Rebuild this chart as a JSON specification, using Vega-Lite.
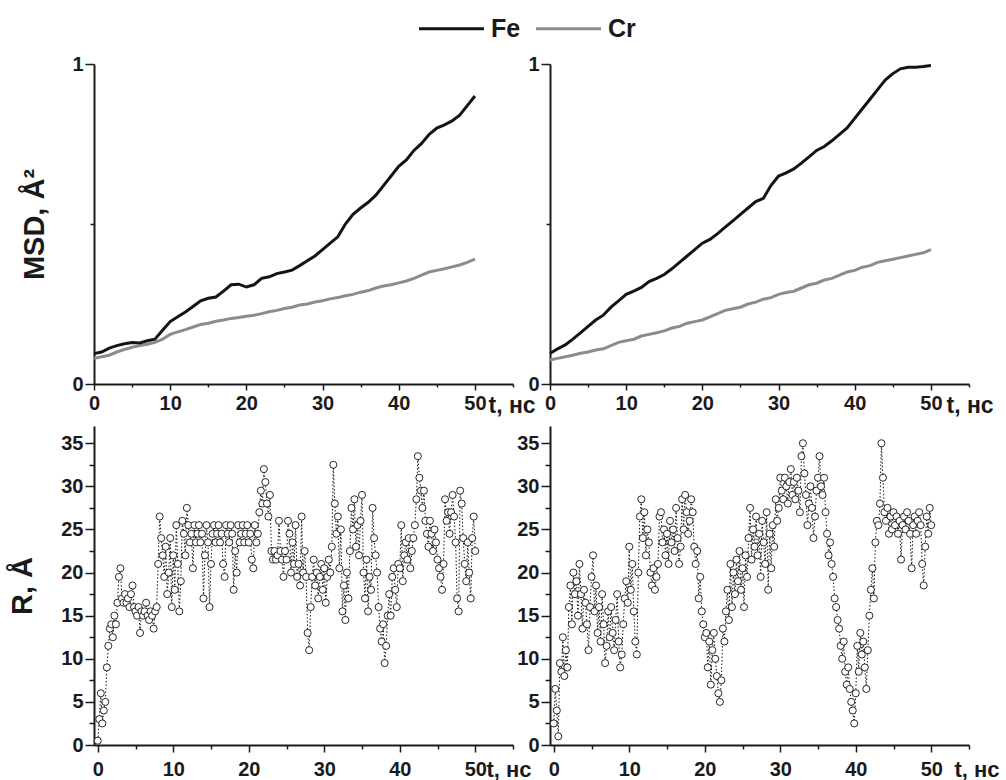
{
"$schema": "https://vega.github.io/schema/vega-lite/v6.json",
"background": "white",
"padding": {"left": 8, "top": 16, "right": 0, "bottom": 0},
"config": {
  "font": "Liberation Sans",
  "view": {"stroke": null},
  "axis": {"labelFont": "Liberation Sans", "labelFontWeight": "bold", "labelFontSize": 20, "labelColor": "#1a1a1a", "domainColor": "#1a1a1a", "domainWidth": 2, "tickColor": "#1a1a1a", "tickWidth": 1.5, "grid": false, "titleFont": "Liberation Sans", "titleFontWeight": "bold", "titleColor": "#1a1a1a", "labelOverlap": false, "labelFlush": false, "labelBound": false}
},
"datasets": {
"msdA": [
{"t":0,"Fe":0.095,"Cr":0.08},{"t":1,"Fe":0.1,"Cr":0.085},{"t":2,"Fe":0.112,"Cr":0.09},{"t":3,"Fe":0.12,"Cr":0.1},{"t":4,"Fe":0.126,"Cr":0.108},{"t":5,"Fe":0.13,"Cr":0.115},{"t":6,"Fe":0.128,"Cr":0.12},{"t":7,"Fe":0.135,"Cr":0.124},{"t":8,"Fe":0.14,"Cr":0.13},{"t":9,"Fe":0.168,"Cr":0.14},{"t":10,"Fe":0.195,"Cr":0.155},{"t":11,"Fe":0.21,"Cr":0.163},{"t":12,"Fe":0.225,"Cr":0.17},{"t":13,"Fe":0.242,"Cr":0.178},{"t":14,"Fe":0.26,"Cr":0.186},{"t":15,"Fe":0.268,"Cr":0.19},{"t":16,"Fe":0.272,"Cr":0.196},{"t":17,"Fe":0.29,"Cr":0.2},{"t":18,"Fe":0.31,"Cr":0.205},{"t":19,"Fe":0.312,"Cr":0.208},{"t":20,"Fe":0.303,"Cr":0.212},{"t":21,"Fe":0.31,"Cr":0.215},{"t":22,"Fe":0.33,"Cr":0.22},{"t":23,"Fe":0.335,"Cr":0.226},{"t":24,"Fe":0.345,"Cr":0.23},{"t":25,"Fe":0.35,"Cr":0.236},{"t":26,"Fe":0.356,"Cr":0.24},{"t":27,"Fe":0.37,"Cr":0.247},{"t":28,"Fe":0.385,"Cr":0.25},{"t":29,"Fe":0.4,"Cr":0.256},{"t":30,"Fe":0.42,"Cr":0.26},{"t":31,"Fe":0.44,"Cr":0.266},{"t":32,"Fe":0.46,"Cr":0.27},{"t":33,"Fe":0.5,"Cr":0.276},{"t":34,"Fe":0.53,"Cr":0.28},{"t":35,"Fe":0.55,"Cr":0.287},{"t":36,"Fe":0.568,"Cr":0.292},{"t":37,"Fe":0.59,"Cr":0.3},{"t":38,"Fe":0.62,"Cr":0.306},{"t":39,"Fe":0.65,"Cr":0.31},{"t":40,"Fe":0.68,"Cr":0.316},{"t":41,"Fe":0.7,"Cr":0.322},{"t":42,"Fe":0.73,"Cr":0.33},{"t":43,"Fe":0.752,"Cr":0.34},{"t":44,"Fe":0.78,"Cr":0.35},{"t":45,"Fe":0.8,"Cr":0.355},{"t":46,"Fe":0.81,"Cr":0.36},{"t":47,"Fe":0.822,"Cr":0.366},{"t":48,"Fe":0.84,"Cr":0.372},{"t":49,"Fe":0.87,"Cr":0.38},{"t":50,"Fe":0.9,"Cr":0.39}
],
"msdB": [
{"t":0,"Fe":0.095,"Cr":0.075},{"t":1,"Fe":0.11,"Cr":0.08},{"t":2,"Fe":0.122,"Cr":0.085},{"t":3,"Fe":0.14,"Cr":0.09},{"t":4,"Fe":0.16,"Cr":0.096},{"t":5,"Fe":0.18,"Cr":0.1},{"t":6,"Fe":0.2,"Cr":0.106},{"t":7,"Fe":0.215,"Cr":0.11},{"t":8,"Fe":0.24,"Cr":0.12},{"t":9,"Fe":0.26,"Cr":0.13},{"t":10,"Fe":0.28,"Cr":0.135},{"t":11,"Fe":0.29,"Cr":0.14},{"t":12,"Fe":0.302,"Cr":0.15},{"t":13,"Fe":0.32,"Cr":0.155},{"t":14,"Fe":0.33,"Cr":0.16},{"t":15,"Fe":0.342,"Cr":0.166},{"t":16,"Fe":0.36,"Cr":0.175},{"t":17,"Fe":0.38,"Cr":0.18},{"t":18,"Fe":0.4,"Cr":0.19},{"t":19,"Fe":0.42,"Cr":0.195},{"t":20,"Fe":0.44,"Cr":0.2},{"t":21,"Fe":0.452,"Cr":0.21},{"t":22,"Fe":0.47,"Cr":0.22},{"t":23,"Fe":0.49,"Cr":0.23},{"t":24,"Fe":0.51,"Cr":0.235},{"t":25,"Fe":0.53,"Cr":0.24},{"t":26,"Fe":0.55,"Cr":0.25},{"t":27,"Fe":0.57,"Cr":0.256},{"t":28,"Fe":0.58,"Cr":0.265},{"t":29,"Fe":0.62,"Cr":0.27},{"t":30,"Fe":0.65,"Cr":0.28},{"t":31,"Fe":0.66,"Cr":0.286},{"t":32,"Fe":0.672,"Cr":0.29},{"t":33,"Fe":0.69,"Cr":0.3},{"t":34,"Fe":0.71,"Cr":0.31},{"t":35,"Fe":0.73,"Cr":0.315},{"t":36,"Fe":0.742,"Cr":0.325},{"t":37,"Fe":0.76,"Cr":0.33},{"t":38,"Fe":0.78,"Cr":0.34},{"t":39,"Fe":0.8,"Cr":0.35},{"t":40,"Fe":0.83,"Cr":0.355},{"t":41,"Fe":0.86,"Cr":0.365},{"t":42,"Fe":0.89,"Cr":0.37},{"t":43,"Fe":0.92,"Cr":0.38},{"t":44,"Fe":0.95,"Cr":0.385},{"t":45,"Fe":0.97,"Cr":0.39},{"t":46,"Fe":0.985,"Cr":0.395},{"t":47,"Fe":0.99,"Cr":0.4},{"t":48,"Fe":0.99,"Cr":0.405},{"t":49,"Fe":0.992,"Cr":0.41},{"t":50,"Fe":0.995,"Cr":0.42}
],
"rA": [
{"t":0,"r":0.5},{"t":0.2,"r":3},{"t":0.4,"r":6},{"t":0.6,"r":2.5},{"t":0.8,"r":4},
{"t":1,"r":5},{"t":1.2,"r":9},{"t":1.4,"r":11.5},{"t":1.6,"r":13.5},{"t":1.8,"r":14},
{"t":2,"r":12.5},{"t":2.2,"r":15},{"t":2.4,"r":14},{"t":2.6,"r":16.5},{"t":2.8,"r":19.5},
{"t":3,"r":20.5},{"t":3.2,"r":17},{"t":3.4,"r":16.5},{"t":3.6,"r":17.5},{"t":3.8,"r":16.5},
{"t":4,"r":17},{"t":4.2,"r":16},{"t":4.4,"r":17.5},{"t":4.6,"r":18.5},{"t":4.8,"r":16},
{"t":5,"r":15.5},{"t":5.2,"r":15},{"t":5.4,"r":16},{"t":5.6,"r":13},{"t":5.8,"r":15.5},
{"t":6,"r":15},{"t":6.2,"r":15.5},{"t":6.4,"r":16.5},{"t":6.6,"r":15},{"t":6.8,"r":14.5},
{"t":7,"r":15.5},{"t":7.2,"r":15},{"t":7.4,"r":13.5},{"t":7.6,"r":15.5},{"t":7.8,"r":16},
{"t":8,"r":21},{"t":8.2,"r":26.5},{"t":8.4,"r":24},{"t":8.6,"r":22},{"t":8.8,"r":19.5},
{"t":9,"r":23},{"t":9.2,"r":17.5},{"t":9.4,"r":20},{"t":9.6,"r":24},{"t":9.8,"r":16},
{"t":10,"r":22},{"t":10.2,"r":18},{"t":10.4,"r":25.5},{"t":10.6,"r":21},{"t":10.8,"r":15.5},
{"t":11,"r":19},{"t":11.2,"r":26},{"t":11.4,"r":24.5},{"t":11.6,"r":22},{"t":11.8,"r":27.5},
{"t":12,"r":25.5},{"t":12.2,"r":23.5},{"t":12.4,"r":24.5},{"t":12.6,"r":20.5},{"t":12.8,"r":25.5},
{"t":13,"r":23.5},{"t":13.2,"r":24.5},{"t":13.4,"r":25.5},{"t":13.6,"r":23.5},{"t":13.8,"r":24.5},
{"t":14,"r":17},{"t":14.2,"r":22},{"t":14.4,"r":25.5},{"t":14.6,"r":23.5},{"t":14.8,"r":16},
{"t":15,"r":21},{"t":15.2,"r":24.5},{"t":15.4,"r":25.5},{"t":15.6,"r":23.5},{"t":15.8,"r":24.5},
{"t":16,"r":25.5},{"t":16.2,"r":23.5},{"t":16.4,"r":24.5},{"t":16.6,"r":21},{"t":16.8,"r":19.5},
{"t":17,"r":25.5},{"t":17.2,"r":24.5},{"t":17.4,"r":23.5},{"t":17.6,"r":25.5},{"t":17.8,"r":24.5},
{"t":18,"r":18},{"t":18.2,"r":22.5},{"t":18.4,"r":20},{"t":18.6,"r":25.5},{"t":18.8,"r":23.5},
{"t":19,"r":24.5},{"t":19.2,"r":25.5},{"t":19.4,"r":23.5},{"t":19.6,"r":24.5},{"t":19.8,"r":25.5},
{"t":20,"r":23.5},{"t":20.2,"r":24.5},{"t":20.4,"r":21.5},{"t":20.6,"r":20.5},{"t":20.8,"r":25.5},
{"t":21,"r":23.5},{"t":21.2,"r":24.5},{"t":21.4,"r":27},{"t":21.6,"r":29.5},{"t":21.8,"r":28},
{"t":22,"r":32},{"t":22.2,"r":30.5},{"t":22.4,"r":28},{"t":22.6,"r":26.5},{"t":22.8,"r":29},
{"t":23,"r":22.5},{"t":23.2,"r":21.5},{"t":23.4,"r":22.5},{"t":23.6,"r":21.5},{"t":23.8,"r":22},
{"t":24,"r":26},{"t":24.2,"r":22.5},{"t":24.4,"r":21.5},{"t":24.6,"r":19.5},{"t":24.8,"r":22.5},
{"t":25,"r":21.5},{"t":25.2,"r":26},{"t":25.4,"r":24.5},{"t":25.6,"r":20},{"t":25.8,"r":23.5},
{"t":26,"r":21},{"t":26.2,"r":25.5},{"t":26.4,"r":19.5},{"t":26.6,"r":21},{"t":26.8,"r":18.5},
{"t":27,"r":26.5},{"t":27.2,"r":20},{"t":27.4,"r":22.5},{"t":27.6,"r":19.5},{"t":27.8,"r":13},
{"t":28,"r":11},{"t":28.2,"r":16},{"t":28.4,"r":19.5},{"t":28.6,"r":21.5},{"t":28.8,"r":18.5},
{"t":29,"r":20},{"t":29.2,"r":17},{"t":29.4,"r":19.5},{"t":29.6,"r":21},{"t":29.8,"r":18},
{"t":30,"r":20.5},{"t":30.2,"r":16.5},{"t":30.4,"r":19.5},{"t":30.6,"r":21.5},{"t":30.8,"r":20},
{"t":31,"r":23},{"t":31.2,"r":32.5},{"t":31.4,"r":28},{"t":31.6,"r":24.5},{"t":31.8,"r":26.5},
{"t":32,"r":20.5},{"t":32.2,"r":25},{"t":32.4,"r":15.5},{"t":32.6,"r":18.5},{"t":32.8,"r":14.5},
{"t":33,"r":20},{"t":33.2,"r":17},{"t":33.4,"r":22.5},{"t":33.6,"r":27.5},{"t":33.8,"r":25},
{"t":34,"r":28.5},{"t":34.2,"r":23},{"t":34.4,"r":25.5},{"t":34.6,"r":22},{"t":34.8,"r":26},
{"t":35,"r":29},{"t":35.2,"r":20},{"t":35.4,"r":17},{"t":35.6,"r":21.5},{"t":35.8,"r":15.5},
{"t":36,"r":19.5},{"t":36.2,"r":18},{"t":36.4,"r":27.5},{"t":36.6,"r":24},{"t":36.8,"r":22},
{"t":37,"r":20},{"t":37.2,"r":16},{"t":37.4,"r":13.5},{"t":37.6,"r":12},{"t":37.8,"r":14},
{"t":38,"r":9.5},{"t":38.2,"r":11.5},{"t":38.4,"r":15},{"t":38.6,"r":17.5},{"t":38.8,"r":15},
{"t":39,"r":19.5},{"t":39.2,"r":20.5},{"t":39.4,"r":18},{"t":39.6,"r":16},{"t":39.8,"r":21},
{"t":40,"r":20.5},{"t":40.2,"r":25.5},{"t":40.4,"r":19},{"t":40.6,"r":22},{"t":40.8,"r":23.5},
{"t":41,"r":21.5},{"t":41.2,"r":24},{"t":41.4,"r":20.5},{"t":41.6,"r":22.5},{"t":41.8,"r":24},
{"t":42,"r":25.5},{"t":42.2,"r":28.5},{"t":42.4,"r":33.5},{"t":42.6,"r":31},{"t":42.8,"r":29.5},
{"t":43,"r":27.5},{"t":43.2,"r":29.5},{"t":43.4,"r":26},{"t":43.6,"r":24.5},{"t":43.8,"r":23},
{"t":44,"r":26},{"t":44.2,"r":24.5},{"t":44.4,"r":22.5},{"t":44.6,"r":25},{"t":44.8,"r":23.5},
{"t":45,"r":21.5},{"t":45.2,"r":20.5},{"t":45.4,"r":19.5},{"t":45.6,"r":18},{"t":45.8,"r":21},
{"t":46,"r":28.5},{"t":46.2,"r":26},{"t":46.4,"r":27},{"t":46.6,"r":24.5},{"t":46.8,"r":27},
{"t":47,"r":29},{"t":47.2,"r":26.5},{"t":47.4,"r":23.5},{"t":47.6,"r":17},{"t":47.8,"r":15.5},
{"t":48,"r":29.5},{"t":48.2,"r":28},{"t":48.4,"r":24},{"t":48.6,"r":21},{"t":48.8,"r":19},
{"t":49,"r":23.5},{"t":49.2,"r":20},{"t":49.4,"r":17},{"t":49.6,"r":24},{"t":49.8,"r":26.5},
{"t":50,"r":22.5}
],
"rB": [
{"t":0,"r":2.5},{"t":0.2,"r":6.5},{"t":0.4,"r":4},{"t":0.6,"r":1},{"t":0.8,"r":9.5},
{"t":1,"r":8.5},{"t":1.2,"r":12.5},{"t":1.4,"r":8},{"t":1.6,"r":11},{"t":1.8,"r":9},
{"t":2,"r":16},{"t":2.2,"r":18.5},{"t":2.4,"r":14},{"t":2.6,"r":20},{"t":2.8,"r":17.5},
{"t":3,"r":19},{"t":3.2,"r":15},{"t":3.4,"r":21},{"t":3.6,"r":17.5},{"t":3.8,"r":13.5},
{"t":4,"r":18},{"t":4.2,"r":16.5},{"t":4.4,"r":14},{"t":4.6,"r":11},{"t":4.8,"r":16},
{"t":5,"r":19.5},{"t":5.2,"r":22},{"t":5.4,"r":15.5},{"t":5.6,"r":18.5},{"t":5.8,"r":13},
{"t":6,"r":16},{"t":6.2,"r":12},{"t":6.4,"r":17.5},{"t":6.6,"r":14},{"t":6.8,"r":9.5},
{"t":7,"r":11.5},{"t":7.2,"r":15.5},{"t":7.4,"r":12.5},{"t":7.6,"r":16},{"t":7.8,"r":13},
{"t":8,"r":11},{"t":8.2,"r":14.5},{"t":8.4,"r":17.5},{"t":8.6,"r":12},{"t":8.8,"r":9},
{"t":9,"r":10.5},{"t":9.2,"r":14},{"t":9.4,"r":17},{"t":9.6,"r":19},{"t":9.8,"r":16.5},
{"t":10,"r":23},{"t":10.2,"r":18},{"t":10.4,"r":21},{"t":10.6,"r":15.5},{"t":10.8,"r":12},
{"t":11,"r":10.5},{"t":11.2,"r":20},{"t":11.4,"r":26.5},{"t":11.6,"r":28.5},{"t":11.8,"r":24},
{"t":12,"r":27},{"t":12.2,"r":22},{"t":12.4,"r":25},{"t":12.6,"r":23.5},{"t":12.8,"r":20},
{"t":13,"r":18.5},{"t":13.2,"r":20.5},{"t":13.4,"r":18},{"t":13.6,"r":19.5},{"t":13.8,"r":21},
{"t":14,"r":26.5},{"t":14.2,"r":27},{"t":14.4,"r":23.5},{"t":14.6,"r":25},{"t":14.8,"r":22},
{"t":15,"r":24.5},{"t":15.2,"r":21},{"t":15.4,"r":26},{"t":15.6,"r":23.5},{"t":15.8,"r":25},
{"t":16,"r":22.5},{"t":16.2,"r":27.5},{"t":16.4,"r":24},{"t":16.6,"r":21},{"t":16.8,"r":23},
{"t":17,"r":28.5},{"t":17.2,"r":25},{"t":17.4,"r":29},{"t":17.6,"r":27},{"t":17.8,"r":24.5},
{"t":18,"r":26},{"t":18.2,"r":28.5},{"t":18.4,"r":27},{"t":18.6,"r":23},{"t":18.8,"r":21},
{"t":19,"r":22.5},{"t":19.2,"r":17},{"t":19.4,"r":19.5},{"t":19.6,"r":15.5},{"t":19.8,"r":14},
{"t":20,"r":12.5},{"t":20.2,"r":13},{"t":20.4,"r":9},{"t":20.6,"r":12},{"t":20.8,"r":7},
{"t":21,"r":11},{"t":21.2,"r":13},{"t":21.4,"r":10},{"t":21.6,"r":8},{"t":21.8,"r":6},
{"t":22,"r":5},{"t":22.2,"r":7.5},{"t":22.4,"r":13.5},{"t":22.6,"r":12},{"t":22.8,"r":15.5},
{"t":23,"r":18},{"t":23.2,"r":14.5},{"t":23.4,"r":21},{"t":23.6,"r":16},{"t":23.8,"r":20},
{"t":24,"r":17.5},{"t":24.2,"r":21.5},{"t":24.4,"r":19},{"t":24.6,"r":22.5},{"t":24.8,"r":18},
{"t":25,"r":20.5},{"t":25.2,"r":16},{"t":25.4,"r":22},{"t":25.6,"r":19.5},{"t":25.8,"r":24},
{"t":26,"r":27.5},{"t":26.2,"r":21.5},{"t":26.4,"r":25},{"t":26.6,"r":23},{"t":26.8,"r":26.5},
{"t":27,"r":22},{"t":27.2,"r":24.5},{"t":27.4,"r":19.5},{"t":27.6,"r":26},{"t":27.8,"r":23.5},
{"t":28,"r":21},{"t":28.2,"r":27},{"t":28.4,"r":18},{"t":28.6,"r":24.5},{"t":28.8,"r":20.5},
{"t":29,"r":25.5},{"t":29.2,"r":23},{"t":29.4,"r":28.5},{"t":29.6,"r":26},{"t":29.8,"r":27.5},
{"t":30,"r":31},{"t":30.2,"r":29.5},{"t":30.4,"r":28.5},{"t":30.6,"r":31},{"t":30.8,"r":30},
{"t":31,"r":28},{"t":31.2,"r":30.5},{"t":31.4,"r":32},{"t":31.6,"r":29},{"t":31.8,"r":30.5},
{"t":32,"r":28.5},{"t":32.2,"r":31},{"t":32.4,"r":29.5},{"t":32.6,"r":27},{"t":32.8,"r":33.5},
{"t":33,"r":35},{"t":33.2,"r":31.5},{"t":33.4,"r":29},{"t":33.6,"r":25.5},{"t":33.8,"r":28},
{"t":34,"r":30},{"t":34.2,"r":27.5},{"t":34.4,"r":24},{"t":34.6,"r":26.5},{"t":34.8,"r":29.5},
{"t":35,"r":31},{"t":35.2,"r":33.5},{"t":35.4,"r":30},{"t":35.6,"r":29},{"t":35.8,"r":31},
{"t":36,"r":27},{"t":36.2,"r":24.5},{"t":36.4,"r":22},{"t":36.6,"r":23.5},{"t":36.8,"r":21},
{"t":37,"r":19.5},{"t":37.2,"r":17},{"t":37.4,"r":16},{"t":37.6,"r":14.5},{"t":37.8,"r":13.5},
{"t":38,"r":11.5},{"t":38.2,"r":10},{"t":38.4,"r":12},{"t":38.6,"r":8.5},{"t":38.8,"r":7},
{"t":39,"r":9},{"t":39.2,"r":6.5},{"t":39.4,"r":5},{"t":39.6,"r":4},{"t":39.8,"r":2.5},
{"t":40,"r":6},{"t":40.2,"r":11.5},{"t":40.4,"r":8.5},{"t":40.6,"r":13},{"t":40.8,"r":10.5},
{"t":41,"r":12},{"t":41.2,"r":9},{"t":41.4,"r":6.5},{"t":41.6,"r":11},{"t":41.8,"r":15},
{"t":42,"r":18},{"t":42.2,"r":20.5},{"t":42.4,"r":17},{"t":42.6,"r":23.5},{"t":42.8,"r":26},
{"t":43,"r":25.5},{"t":43.2,"r":28},{"t":43.4,"r":35},{"t":43.6,"r":31},{"t":43.8,"r":27},
{"t":44,"r":26},{"t":44.2,"r":27.5},{"t":44.4,"r":24.5},{"t":44.6,"r":26.5},{"t":44.8,"r":25},
{"t":45,"r":27},{"t":45.2,"r":25.5},{"t":45.4,"r":26.5},{"t":45.6,"r":24.5},{"t":45.8,"r":26},
{"t":46,"r":21.5},{"t":46.2,"r":25.5},{"t":46.4,"r":26.5},{"t":46.6,"r":25},{"t":46.8,"r":27},
{"t":47,"r":26},{"t":47.2,"r":24.5},{"t":47.4,"r":20.5},{"t":47.6,"r":25.5},{"t":47.8,"r":26.5},
{"t":48,"r":24.5},{"t":48.2,"r":26},{"t":48.4,"r":27},{"t":48.6,"r":25.5},{"t":48.8,"r":21},
{"t":49,"r":18.5},{"t":49.2,"r":23},{"t":49.4,"r":26.5},{"t":49.6,"r":24.5},{"t":49.8,"r":27.5},
{"t":50,"r":25.5}
]
},
"columns": 2,
"bounds": "flush",
"spacing": {"row": 42, "column": 37},
"resolve": {"scale": {"x": "independent", "y": "independent", "color": "shared"}, "legend": {"color": "shared"}},
"concat": [
{
  "width": 419, "height": 320,
  "data": {"name": "msdA"},
  "encoding": {
    "x": {"field": "t", "type": "quantitative", "scale": {"domain": [0, 55], "nice": false}, "axis": {"values": [0,5,10,15,20,25,30,35,40,45,50,55], "labelExpr": "datum.value % 10 === 0 ? datum.label : ''", "tickSize": {"condition": {"test": "datum.value % 10 === 0", "value": 6}, "value": 3}, "labelPadding": 3, "title": "t, нс", "titleFontSize": 23, "titleAlign": "left", "titleBaseline": "alphabetic", "titleAnchor": "start", "titleX": 394, "titleY": 28}}
  },
  "layer": [
    {"mark": {"type": "line", "strokeWidth": 3}, "encoding": {"y": {"field": "Cr", "type": "quantitative", "scale": {"domain": [0, 1], "nice": false}, "axis": {"values": [0, 0.5, 1], "labelExpr": "datum.value === 0.5 ? '' : format(datum.value, 'd')", "tickSize": {"condition": {"test": "datum.value === 0.5", "value": 4}, "value": 9}, "labelPadding": 2, "title": "MSD, Å²", "titleFontSize": 29, "titlePadding": 22}}, "color": {"datum": "Cr", "type": "nominal", "scale": {"domain": ["Fe", "Cr"], "range": ["#141414", "#8c8c8c"]}, "legend": {"orient": "none", "legendX": 345, "legendY": -48, "direction": "horizontal", "title": null, "symbolType": "M-4,0H4", "symbolStrokeWidth": 3, "symbolSize": 264, "labelFontSize": 25, "labelFontWeight": "bold", "labelFont": "Liberation Sans", "labelColor": "#1a1a1a", "labelOffset": 27, "columnPadding": 9}}}},
    {"mark": {"type": "line", "strokeWidth": 3}, "encoding": {"y": {"field": "Fe", "type": "quantitative"}, "color": {"datum": "Fe", "type": "nominal"}}}
  ]
},
{
  "width": 419, "height": 320,
  "data": {"name": "msdB"},
  "encoding": {
    "x": {"field": "t", "type": "quantitative", "scale": {"domain": [0, 55], "nice": false}, "axis": {"values": [0,5,10,15,20,25,30,35,40,45,50,55], "labelExpr": "datum.value % 10 === 0 ? datum.label : ''", "tickSize": {"condition": {"test": "datum.value % 10 === 0", "value": 6}, "value": 3}, "labelPadding": 3, "title": "t, нс", "titleFontSize": 23, "titleAlign": "left", "titleBaseline": "alphabetic", "titleAnchor": "start", "titleX": 396, "titleY": 28}}
  },
  "layer": [
    {"mark": {"type": "line", "strokeWidth": 3}, "encoding": {"y": {"field": "Cr", "type": "quantitative", "scale": {"domain": [0, 1], "nice": false}, "axis": {"values": [0, 0.5, 1], "labelExpr": "datum.value === 0.5 ? '' : format(datum.value, 'd')", "tickSize": {"condition": {"test": "datum.value === 0.5", "value": 4}, "value": 9}, "labelPadding": 2, "title": null}}, "color": {"datum": "Cr", "type": "nominal"}}},
    {"mark": {"type": "line", "strokeWidth": 3}, "encoding": {"y": {"field": "Fe", "type": "quantitative"}, "color": {"datum": "Fe", "type": "nominal"}}}
  ]
},
{
  "width": 419, "height": 319,
  "data": {"name": "rA"},
  "encoding": {
    "x": {"field": "t", "type": "quantitative", "scale": {"domain": [-0.5, 55], "nice": false}, "axis": {"values": [0,5,10,15,20,25,30,35,40,45,50,55], "labelExpr": "datum.value % 10 === 0 ? datum.label : ''", "tickSize": {"condition": {"test": "datum.value % 10 === 0", "value": 7}, "value": 4}, "labelPadding": 7, "title": "t, нс", "titleFontSize": 22, "titleAlign": "left", "titleBaseline": "alphabetic", "titleAnchor": "start", "titleX": 392, "titleY": 31}},
    "y": {"field": "r", "type": "quantitative", "scale": {"domain": [0, 37], "nice": false}, "axis": {"values": [0,2.5,5,7.5,10,12.5,15,17.5,20,22.5,25,27.5,30,32.5,35], "labelExpr": "datum.value % 5 === 0 ? datum.label : ''", "tickSize": {"condition": {"test": "datum.value % 5 === 0", "value": 9}, "value": 5}, "labelPadding": 2, "title": "R, Å", "titleFontSize": 29, "titlePadding": 23}}
  },
  "layer": [
    {"mark": {"type": "line", "color": "#111111", "strokeWidth": 1, "strokeDash": [1.5, 2]}},
    {"mark": {"type": "point", "shape": "circle", "size": 50, "filled": true, "fill": "white", "stroke": "#111111", "strokeWidth": 0.9, "opacity": 1}}
  ]
},
{
  "width": 419, "height": 319,
  "data": {"name": "rB"},
  "encoding": {
    "x": {"field": "t", "type": "quantitative", "scale": {"domain": [-0.5, 55], "nice": false}, "axis": {"values": [0,5,10,15,20,25,30,35,40,45,50,55], "labelExpr": "datum.value % 10 === 0 ? datum.label : ''", "tickSize": {"condition": {"test": "datum.value % 10 === 0", "value": 7}, "value": 4}, "labelPadding": 7, "title": "t, нс", "titleFontSize": 22, "titleAlign": "left", "titleBaseline": "alphabetic", "titleAnchor": "start", "titleX": 404, "titleY": 31}},
    "y": {"field": "r", "type": "quantitative", "scale": {"domain": [0, 37], "nice": false}, "axis": {"values": [0,2.5,5,7.5,10,12.5,15,17.5,20,22.5,25,27.5,30,32.5,35], "labelExpr": "datum.value % 5 === 0 ? datum.label : ''", "tickSize": {"condition": {"test": "datum.value % 5 === 0", "value": 9}, "value": 5}, "labelPadding": 2, "title": null}}
  },
  "layer": [
    {"mark": {"type": "line", "color": "#111111", "strokeWidth": 1, "strokeDash": [1.5, 2]}},
    {"mark": {"type": "point", "shape": "circle", "size": 50, "filled": true, "fill": "white", "stroke": "#111111", "strokeWidth": 0.9, "opacity": 1}}
  ]
}
]
}
